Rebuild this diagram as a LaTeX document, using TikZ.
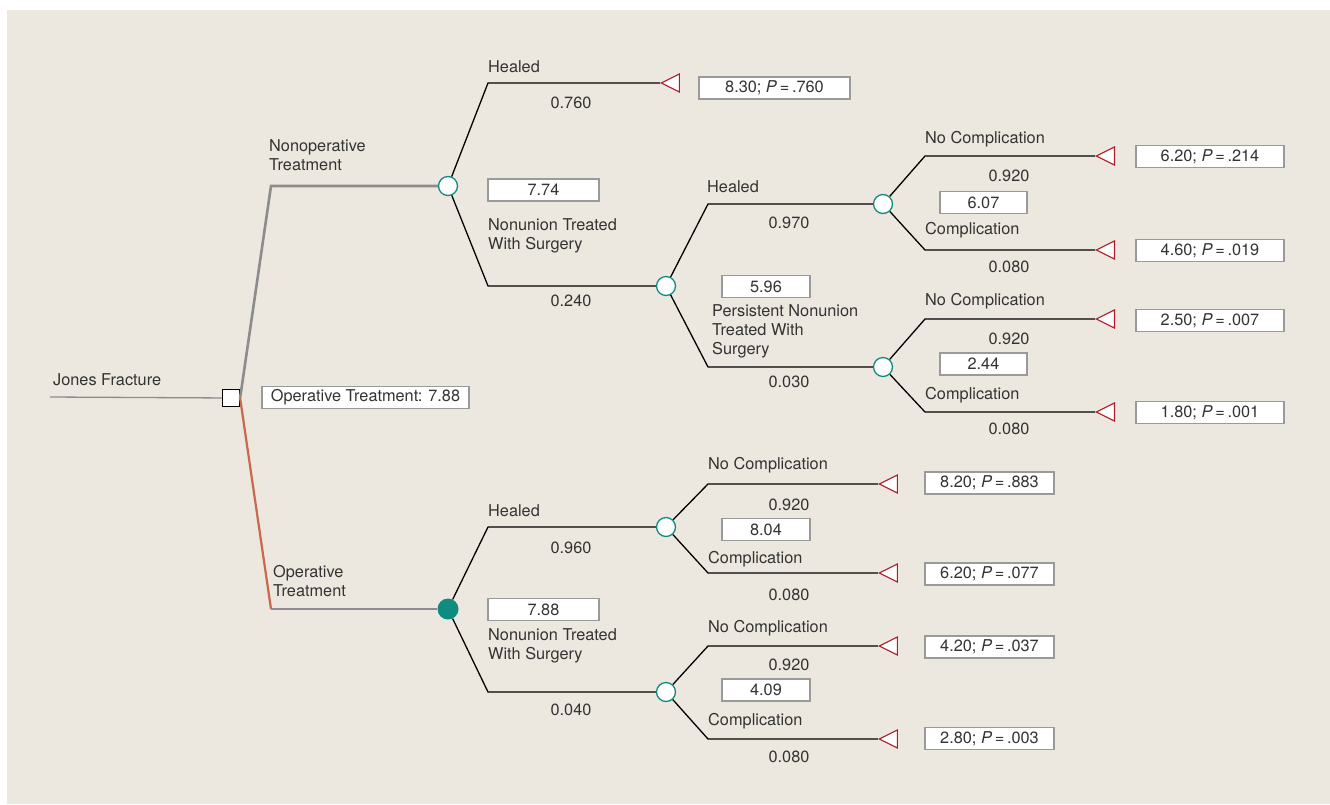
\documentclass[tikz,border=0pt]{standalone}
\usepackage{fontspec}
\setmainfont{TeX Gyre Heros}
\usetikzlibrary{shapes.geometric}

\definecolor{panel}{HTML}{EDE8DF}
\definecolor{ink}{HTML}{333333}
\definecolor{chancecol}{HTML}{0E8C80}
\definecolor{endred}{HTML}{B01C2A}
\definecolor{boxgrey}{HTML}{9A9A9A}
\definecolor{nonopgrey}{HTML}{8C8C8C}
\definecolor{oprust}{HTML}{C8684C}

\tikzset{
	treetxt/.style={text=ink, font=\fontsize{16.3}{19}\selectfont},
	lbl/.style={treetxt, anchor=west, align=left, inner sep=0},
	prob/.style={treetxt, inner sep=0},
	valbox/.style={treetxt, draw=boxgrey, fill=white, line width=1.2pt, minimum height=22pt, inner sep=0},
	chance/.style={circle, draw=chancecol, fill=white, line width=1.3pt, minimum size=19pt, inner sep=0},
	chosen/.style={circle, fill=chancecol, minimum size=21pt, inner sep=0},
	decision/.style={rectangle, draw=black, fill=white, line width=1.2pt, minimum size=17pt, inner sep=0},
	endnode/.style={isosceles triangle, isosceles triangle stretches, shape border rotate=180, draw=endred, fill=white, line width=1.1pt, minimum width=18pt, minimum height=18pt, inner sep=0, anchor=apex},
	branch/.style={black, line width=1.3pt},
}

\begin{document}
\begin{tikzpicture}[x=1pt, y=-1pt]
	%%%%% START %%%%%
	\useasboundingbox (0,0) rectangle (1330,804);
	\fill[panel] (7,10) rectangle (1330,804);
	
	% bend points
	\coordinate (root) at (50,397);
	\coordinate (kNon) at (271,186);
	\coordinate (kOp) at (271,609);
	\coordinate (kHealA) at (488,83);
	\coordinate (kNonA) at (488,286);
	\coordinate (kHealB) at (708,204);
	\coordinate (kPers) at (708,367);
	\coordinate (kNoC1) at (925,156);
	\coordinate (kCom1) at (925,250);
	\coordinate (kNoC2) at (925,319);
	\coordinate (kCom2) at (925,412);
	\coordinate (kHealC) at (488,527);
	\coordinate (kNonC) at (488,692);
	\coordinate (kNoC3) at (708,484);
	\coordinate (kCom3) at (708,573);
	\coordinate (kNoC4) at (708,646);
	\coordinate (kCom4) at (708,739);
	
	% decision and chance nodes
	\node[decision] (dec) at (231,398) {};
	\node[chance] (cNon) at (448,186) {};
	\node[chosen] (cOp) at (448,609) {};
	\node[chance] (cNonA) at (666,286) {};
	\node[chance] (cHealB) at (883,204) {};
	\node[chance] (cPers) at (883,367) {};
	\node[chance] (cHealC) at (666,527) {};
	\node[chance] (cNonC) at (666,692) {};
	
	% terminal nodes
	\node[endnode] (tHealA) at (660,83) {};
	\node[endnode] (tNoC1) at (1095,156) {};
	\node[endnode] (tCom1) at (1095,250) {};
	\node[endnode] (tNoC2) at (1095,319) {};
	\node[endnode] (tCom2) at (1095,412) {};
	\node[endnode] (tNoC3) at (878,484) {};
	\node[endnode] (tCom3) at (878,573) {};
	\node[endnode] (tNoC4) at (878,646) {};
	\node[endnode] (tCom4) at (878,739) {};
	
	% connectors
	\draw[nonopgrey, line width=1.3pt] (root) -- (dec);
	\draw[nonopgrey, line width=2.6pt] (dec.east) -- (kNon) -- (cNon);
	\draw[oprust, line width=2.2pt] (dec.east) -- (kOp);
	\draw[nonopgrey, line width=2.6pt] (kOp) -- (cOp);
	\draw[branch] (cNon) -- (kHealA) -- (tHealA.apex);
	\draw[branch] (cNon) -- (kNonA) -- (cNonA);
	\draw[branch] (cNonA) -- (kHealB) -- (cHealB);
	\draw[branch] (cNonA) -- (kPers) -- (cPers);
	\draw[branch] (cHealB) -- (kNoC1) -- (tNoC1.apex);
	\draw[branch] (cHealB) -- (kCom1) -- (tCom1.apex);
	\draw[branch] (cPers) -- (kNoC2) -- (tNoC2.apex);
	\draw[branch] (cPers) -- (kCom2) -- (tCom2.apex);
	\draw[branch] (cOp) -- (kHealC) -- (cHealC);
	\draw[branch] (cOp) -- (kNonC) -- (cNonC);
	\draw[branch] (cHealC) -- (kNoC3) -- (tNoC3.apex);
	\draw[branch] (cHealC) -- (kCom3) -- (tCom3.apex);
	\draw[branch] (cNonC) -- (kNoC4) -- (tNoC4.apex);
	\draw[branch] (cNonC) -- (kCom4) -- (tCom4.apex);
	
	% branch labels
	\node[lbl] (lJones) at (53,380) {Jones Fracture};
	\node[lbl] (lNon) at (269,155.5) {Nonoperative\\Treatment};
	\node[lbl] (lOp) at (273,581.5) {Operative\\Treatment};
	\node[lbl] (lHealA) at (488,67) {Healed};
	\node[lbl] (lNonA) at (488,235.5) {Nonunion Treated\\With Surgery};
	\node[lbl] (lHealB) at (707,187) {Healed};
	\node[lbl] (lPers) at (712,331.5) {Persistent Nonunion\\Treated With\\Surgery};
	\node[lbl] (lNoC1) at (925,139) {No Complication};
	\node[lbl] (lCom1) at (925,230) {Complication};
	\node[lbl] (lNoC2) at (925,301) {No Complication};
	\node[lbl] (lCom2) at (925,395) {Complication};
	\node[lbl] (lHealC) at (488,511) {Healed};
	\node[lbl] (lNonC) at (488,645.5) {Nonunion Treated\\With Surgery};
	\node[lbl] (lNoC3) at (708,465) {No Complication};
	\node[lbl] (lCom3) at (708,559) {Complication};
	\node[lbl] (lNoC4) at (708,628) {No Complication};
	\node[lbl] (lCom4) at (708,721) {Complication};
	
	% probabilities
	\node[prob] (pHealA) at (571,103) {0.760};
	\node[prob] (pNonA) at (571,301) {0.240};
	\node[prob] (pHealB) at (789,223) {0.970};
	\node[prob] (pPers) at (789,382) {0.030};
	\node[prob] (pNoC1) at (1009,176) {0.920};
	\node[prob] (pCom1) at (1009,267) {0.080};
	\node[prob] (pNoC2) at (1009,339) {0.920};
	\node[prob] (pCom2) at (1009,429) {0.080};
	\node[prob] (pHealC) at (571,548) {0.960};
	\node[prob] (pNonC) at (571,710) {0.040};
	\node[prob] (pNoC3) at (789,505) {0.920};
	\node[prob] (pCom3) at (789,595) {0.080};
	\node[prob] (pNoC4) at (789,665) {0.920};
	\node[prob] (pCom4) at (789,757) {0.080};
	
	% expected values
	\node[valbox, minimum width=207pt] (vDec) at (365.5,397.5) {Operative Treatment: 7.88};
	\node[valbox, minimum width=111pt] (vNon) at (543.5,190) {7.74};
	\node[valbox, minimum width=111pt] (vOp) at (543.5,609.5) {7.88};
	\node[valbox, minimum width=88pt] (vNonA) at (766,286.5) {5.96};
	\node[valbox, minimum width=87pt] (vHealB) at (983.5,202.5) {6.07};
	\node[valbox, minimum width=87pt] (vPers) at (983.5,364) {2.44};
	\node[valbox, minimum width=88pt] (vHealC) at (766,529.5) {8.04};
	\node[valbox, minimum width=88pt] (vNonC) at (766,690) {4.09};
	
	% payoffs
	\node[valbox, minimum width=151pt] (oHealA) at (774.5,88) {8.30; \textit{P}\,=\,.760};
	\node[valbox, minimum width=148pt] (oNoC1) at (1210,156.5) {6.20; \textit{P}\,=\,.214};
	\node[valbox, minimum width=148pt] (oCom1) at (1210,250.5) {4.60; \textit{P}\,=\,.019};
	\node[valbox, minimum width=148pt] (oNoC2) at (1210,320.5) {2.50; \textit{P}\,=\,.007};
	\node[valbox, minimum width=148pt] (oCom2) at (1210,412.5) {1.80; \textit{P}\,=\,.001};
	\node[valbox, minimum width=129pt] (oNoC3) at (989.5,483) {8.20; \textit{P}\,=\,.883};
	\node[valbox, minimum width=129pt] (oCom3) at (989.5,574) {6.20; \textit{P}\,=\,.077};
	\node[valbox, minimum width=129pt] (oNoC4) at (989.5,647) {4.20; \textit{P}\,=\,.037};
	\node[valbox, minimum width=129pt] (oCom4) at (989.5,738.5) {2.80; \textit{P}\,=\,.003};
	
	%%%%% END %%%%%
\end{tikzpicture}
\end{document}
